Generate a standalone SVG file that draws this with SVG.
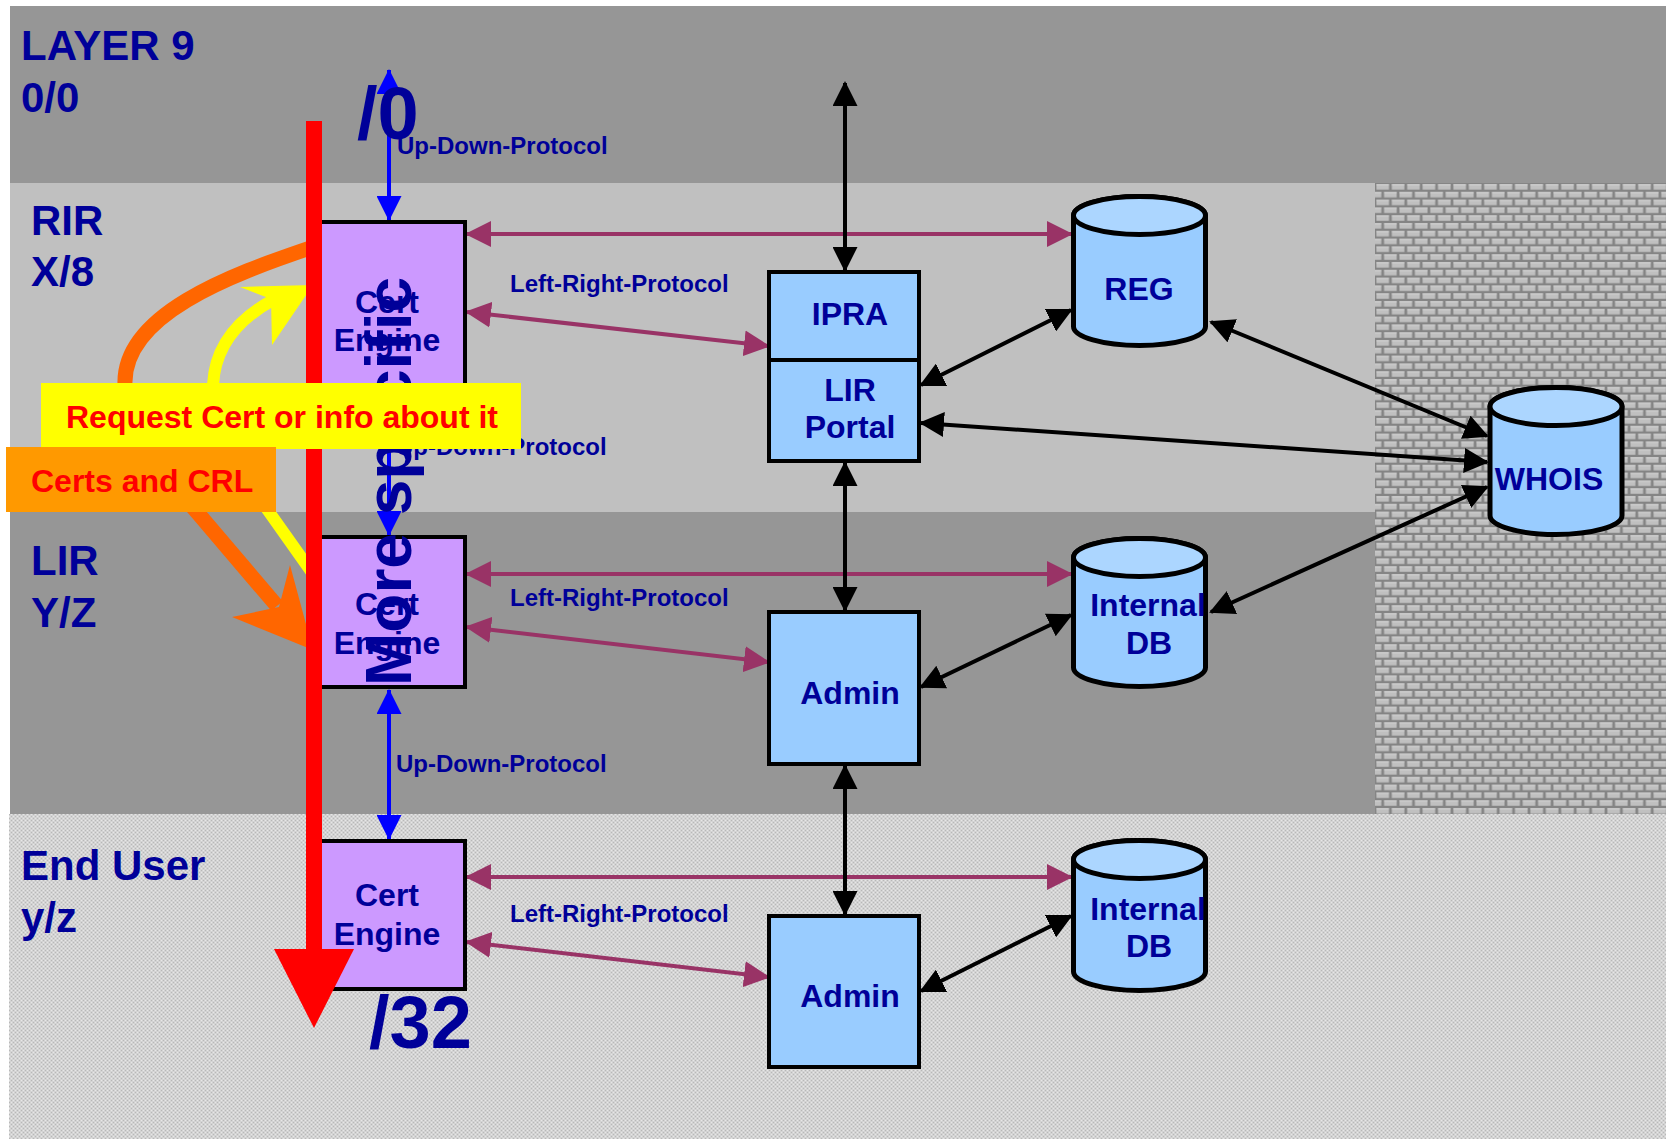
<svg xmlns="http://www.w3.org/2000/svg" width="1666" height="1139" viewBox="0 0 1666 1139">
  <style>
    text { font-family: "Liberation Sans", Arial, Helvetica, sans-serif; font-weight: bold; }
    .navy { fill: #000099; }
    .layer { font-size: 42px; }
    .node { font-size: 32px; text-anchor: middle; }
    .proto { font-size: 24px; }
    .big { font-size: 74px; }
    .note { font-size: 32px; fill: #ff0000; }
    .box { stroke: #000; stroke-width: 4; }
    .cert { fill: #cc99ff; }
    .blue { fill: #99ccff; }
    .cyl { fill: #99ccff; stroke: #000; stroke-width: 5; }
    .cyltop { fill: #acd6ff; stroke: #000; stroke-width: 5; }
    .lr { stroke: #993366; stroke-width: 4; fill: none; marker-start: url(#ah-lr); marker-end: url(#ah-lr); }
    .bk { stroke: #000; stroke-width: 4; fill: none; marker-start: url(#ah-bk); marker-end: url(#ah-bk); }
    .ud { stroke: #0000ff; stroke-width: 4; fill: none; marker-start: url(#ah-ud); marker-end: url(#ah-ud); }
  </style>
  <defs>
    <marker id="ah-lr" markerUnits="userSpaceOnUse" viewBox="0 0 26 26" markerWidth="26" markerHeight="26" refX="24" refY="13" orient="auto-start-reverse">
      <path d="M0,0 L26,13 L0,26 z" fill="#993366"/>
    </marker>
    <marker id="ah-bk" markerUnits="userSpaceOnUse" viewBox="0 0 25 25" markerWidth="25" markerHeight="25" refX="23" refY="12.5" orient="auto-start-reverse">
      <path d="M0,0 L25,12.5 L0,25 z" fill="#000"/>
    </marker>
    <marker id="ah-ud" markerUnits="userSpaceOnUse" viewBox="0 0 25 25" markerWidth="25" markerHeight="25" refX="24" refY="12.5" orient="auto-start-reverse">
      <path d="M0,0 L25,12.5 L0,25 z" fill="#0000ff"/>
    </marker>
    <!-- fine speckled fill of the end-user layer -->
    <pattern id="speckle" patternUnits="userSpaceOnUse" x="9" y="814" width="4" height="4">
      <rect width="4" height="4" fill="#d3d3d3"/>
      <rect x="0" y="0" width="1" height="1" fill="#b8b8b8"/>
      <rect x="2" y="2" width="1" height="1" fill="#b8b8b8"/>
      <rect x="2" y="0" width="1" height="1" fill="#e6e6e6"/>
      <rect x="0" y="2" width="1" height="1" fill="#e6e6e6"/>
    </pattern>
    <!-- brick wall behind WHOIS -->
    <pattern id="brick" patternUnits="userSpaceOnUse" x="1375" y="183" width="15.4" height="15.6">
      <rect width="15.4" height="15.6" fill="#848484"/>
      <rect x="1.4" y="1.3" width="12.6" height="5.3" fill="#c0c0c0"/>
      <rect x="1.4" y="1.3" width="12.6" height="1" fill="#d6d6d6"/>
      <rect x="-6.3" y="9.1" width="12.6" height="5.3" fill="#c0c0c0"/>
      <rect x="-6.3" y="9.1" width="12.6" height="1" fill="#d6d6d6"/>
      <rect x="9.1" y="9.1" width="12.6" height="5.3" fill="#c0c0c0"/>
      <rect x="9.1" y="9.1" width="12.6" height="1" fill="#d6d6d6"/>
    </pattern>
  </defs>

  <!-- page -->
  <rect width="1666" height="1139" fill="#ffffff"/>

  <!-- layer bands -->
  <g id="layers">
    <rect x="10" y="6" width="1656" height="177" fill="#969696"/>
    <rect x="10" y="183" width="1656" height="329" fill="#c0c0c0"/>
    <rect x="10" y="512" width="1656" height="302" fill="#969696"/>
    <rect x="9" y="814" width="1657" height="325" fill="url(#speckle)"/>
    <rect x="1375" y="183" width="291" height="631" fill="url(#brick)"/>
  </g>

  <!-- layer titles -->
  <g id="layer-labels" class="navy">
    <text class="layer" x="21" y="60">LAYER 9</text>
    <text class="layer" x="21" y="112">0/0</text>
    <text class="layer" x="31" y="235">RIR</text>
    <text class="layer" x="31" y="286">X/8</text>
    <text class="layer" x="31" y="575">LIR</text>
    <text class="layer" x="31" y="627">Y/Z</text>
    <text class="layer" x="21" y="880">End User</text>
    <text class="layer" x="21" y="932">y/z</text>
  </g>

  <!-- connectors -->
  <g id="connectors">
    <!-- left-right protocol -->
    <line class="lr" x1="467" y1="234" x2="1071" y2="234"/>
    <line class="lr" x1="467" y1="312" x2="768" y2="346"/>
    <line class="lr" x1="467" y1="574" x2="1071" y2="574"/>
    <line class="lr" x1="467" y1="627" x2="768" y2="662"/>
    <line class="lr" x1="467" y1="877" x2="1071" y2="877"/>
    <line class="lr" x1="467" y1="942" x2="768" y2="977"/>
    <!-- registry links -->
    <line class="bk" x1="845" y1="83" x2="845" y2="270"/>
    <line class="bk" x1="845" y1="463" x2="845" y2="610"/>
    <line class="bk" x1="845" y1="766" x2="845" y2="914"/>
    <line class="bk" x1="1071" y1="310" x2="921" y2="385"/>
    <line class="bk" x1="1211" y1="322" x2="1487" y2="436"/>
    <line class="bk" x1="921" y1="423" x2="1487" y2="462"/>
    <line class="bk" x1="1487" y1="487" x2="1211" y2="612"/>
    <line class="bk" x1="921" y1="687" x2="1071" y2="615"/>
    <line class="bk" x1="921" y1="991" x2="1071" y2="916"/>
    <!-- up-down protocol -->
    <line class="ud" x1="389" y1="70" x2="389" y2="220"/>
    <line class="ud" x1="389" y1="421" x2="389" y2="535"/>
    <line class="ud" x1="389" y1="690" x2="389" y2="839"/>
  </g>

  <!-- certificate engines -->
  <g id="cert-rir">
    <rect class="box cert" x="320" y="222" width="145" height="196"/>
    <text class="navy node" x="387" y="313">Cert</text>
    <text class="navy node" x="387" y="351">Engine</text>
  </g>
  <g id="cert-lir">
    <rect class="box cert" x="320" y="537" width="145" height="150"/>
    <text class="navy node" x="387" y="615">Cert</text>
    <text class="navy node" x="387" y="654">Engine</text>
  </g>
  <g id="cert-enduser">
    <rect class="box cert" x="320" y="841" width="145" height="148"/>
    <text class="navy node" x="387" y="906">Cert</text>
    <text class="navy node" x="387" y="945">Engine</text>
  </g>

  <!-- RIR portal -->
  <g id="ipra-portal">
    <rect class="box blue" x="769" y="272" width="150" height="189"/>
    <line x1="769" y1="360" x2="919" y2="360" stroke="#000" stroke-width="4"/>
    <text class="navy node" x="850" y="325">IPRA</text>
    <text class="navy node" x="850" y="401">LIR</text>
    <text class="navy node" x="850" y="438">Portal</text>
  </g>
  <g id="admin-lir">
    <rect class="box blue" x="769" y="612" width="150" height="152"/>
    <text class="navy node" x="850" y="704">Admin</text>
  </g>
  <g id="admin-enduser">
    <rect class="box blue" x="769" y="916" width="150" height="151"/>
    <text class="navy node" x="850" y="1007">Admin</text>
  </g>

  <!-- databases -->
  <g id="reg">
    <path class="cyl" d="M1073.5,215.5 V326.5 A66,19 0 0 0 1205.5,326.5 V215.5 A66,19 0 0 0 1073.5,215.5 Z"/>
    <ellipse class="cyltop" cx="1139.5" cy="215.5" rx="66" ry="19"/>
    <text class="navy node" x="1139" y="300">REG</text>
  </g>
  <g id="whois">
    <path class="cyl" d="M1490,406.5 V515.5 A66,19 0 0 0 1622,515.5 V406.5 A66,19 0 0 0 1490,406.5 Z"/>
    <ellipse class="cyltop" cx="1556" cy="406.5" rx="66" ry="19"/>
    <text class="navy node" x="1549" y="490">WHOIS</text>
  </g>
  <g id="internal-db-lir">
    <path class="cyl" d="M1073.5,557.5 V667.5 A66,19 0 0 0 1205.5,667.5 V557.5 A66,19 0 0 0 1073.5,557.5 Z"/>
    <ellipse class="cyltop" cx="1139.5" cy="557.5" rx="66" ry="19"/>
    <text class="navy node" x="1148" y="616">Internal</text>
    <text class="navy node" x="1149" y="654">DB</text>
  </g>
  <g id="internal-db-enduser">
    <path class="cyl" d="M1073.5,859.5 V971.5 A66,19 0 0 0 1205.5,971.5 V859.5 A66,19 0 0 0 1073.5,859.5 Z"/>
    <ellipse class="cyltop" cx="1139.5" cy="859.5" rx="66" ry="19"/>
    <text class="navy node" x="1148" y="920">Internal</text>
    <text class="navy node" x="1149" y="957">DB</text>
  </g>

  <!-- protocol labels -->
  <g id="protocol-labels" class="navy">
    <text class="proto" x="397" y="154">Up-Down-Protocol</text>
    <text class="proto" x="396" y="455">Up-Down-Protocol</text>
    <text class="proto" x="396" y="772">Up-Down-Protocol</text>
    <text class="proto" x="510" y="292">Left-Right-Protocol</text>
    <text class="proto" x="510" y="606">Left-Right-Protocol</text>
    <text class="proto" x="510" y="922">Left-Right-Protocol</text>
  </g>

  <!-- prefix scale -->
  <g id="prefix-scale">
    <text class="navy big" x="357" y="139">/0</text>
    <text class="navy big" x="369" y="1048">/32</text>
    <text class="navy" font-size="64" transform="translate(411,686) rotate(-90)">More specific</text>
  </g>

  <!-- request / response flow -->
  <g id="flow">
    <path d="M313,247 C230,275 122,315 125,385 C127,430 160,470 197,512 L277,606" fill="none" stroke="#ff6600" stroke-width="15"/>
    <polygon points="313,650 290,565 279,607 232,617" fill="#ff6600"/>
    <path d="M313,574 L262,502 C228,455 210,420 213,385 C215,345 240,318 273,300" fill="none" stroke="#ffff00" stroke-width="12"/>
    <polygon points="313,285 240,287 271,299 272,345" fill="#ffff00"/>
    <rect x="306" y="121" width="16" height="830" fill="#ff0000"/>
    <polygon points="274,949 354,949 314,1028" fill="#ff0000"/>
  </g>

  <g id="note-request">
    <rect x="41" y="383" width="480" height="66" fill="#ffff00"/>
    <text class="note" x="66" y="428">Request Cert or info about it</text>
  </g>
  <g id="note-certs">
    <rect x="6" y="447" width="270" height="65" fill="#ff9900"/>
    <text class="note" x="31" y="492">Certs and CRL</text>
  </g>
</svg>
